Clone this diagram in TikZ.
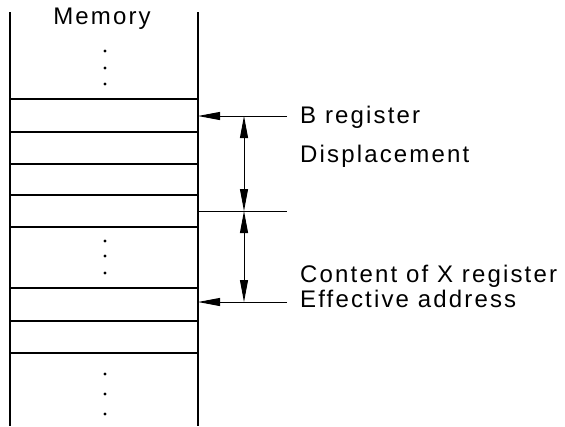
\documentclass[tikz,border=0pt]{standalone}
\usepackage{fontspec}
\setmainfont{Liberation Sans}[LetterSpace=9]
\usetikzlibrary{arrows.meta}
\begin{document}
\begin{tikzpicture}[x=1pt,y=-1pt,
  memline/.style={line width=1.5pt},
  guide/.style={line width=0.9pt},
  tip/.tip={Triangle[length=22pt,width=8pt]},
  dimarrow/.style={line width=0.9pt,tip-tip},
  ptrarrow/.style={line width=0.9pt,-tip},
  lbl/.style={anchor=base west,inner sep=0pt,font=\fontsize{24}{28}\selectfont},
  dotm/.style={circle,fill=black,inner sep=0pt,minimum size=3.2pt}]
\useasboundingbox (0,0) rectangle (565,426);
% memory column
\coordinate (tl) at (10,12);
\coordinate (bl) at (10,426);
\coordinate (tr) at (198,12);
\coordinate (br) at (198,426);
\draw[memline] (tl) -- (bl);
\draw[memline] (tr) -- (br);
\foreach \y [count=\i] in {99,132,164,195,227,288,321,353}{
  \coordinate (ml\i) at (10,\y);
  \coordinate (mr\i) at (198,\y);
  \draw[memline] (ml\i) -- (mr\i);
}
\node[anchor=base,inner sep=0pt,font=\fontsize{24}{28}\selectfont] (mem) at (102,24) {Memory};
% dots
\foreach \y [count=\i] in {51,68,84,241,256,273,374,394,414}{
  \node[dotm] (d\i) at (105,\y) {};
}
% pointer lines
\coordinate (bregE) at (198,116);
\coordinate (bregW) at (287,116);
\coordinate (midE) at (198,211);
\coordinate (midW) at (287,211);
\coordinate (effE) at (198,302);
\coordinate (effW) at (287,302);
\coordinate (a1) at (244,116);
\coordinate (a2) at (244,211);
\coordinate (a3) at (244,302);
\draw[ptrarrow] (bregW) -- (bregE);
\draw[guide] (midE) -- (midW);
\draw[ptrarrow] (effW) -- (effE);
\draw[dimarrow] (a1) -- (a2);
\draw[dimarrow] (a2) -- (a3);
% labels
\node[lbl] (tb) at (300,123) {B register};
\node[lbl] (td) at (300,162) {Displacement};
\node[lbl] (tc) at (300,282) {Content of X register};
\node[lbl] (te) at (300,307) {Effective address};
\end{tikzpicture}
\end{document}
